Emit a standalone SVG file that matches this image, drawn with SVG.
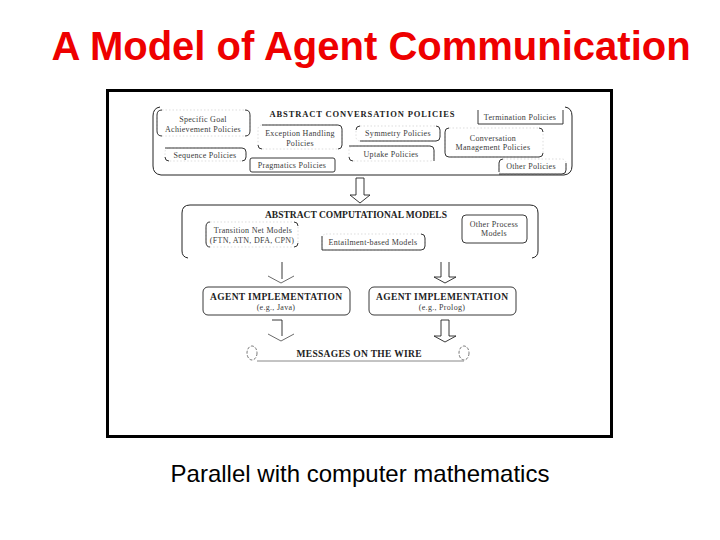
<svg xmlns="http://www.w3.org/2000/svg" width="720" height="540" viewBox="0 0 720 540">
<style>
.frame{fill:#fff;stroke:#000;stroke-width:3}
.grp{fill:none;stroke:#222;stroke-width:1}
.box{fill:none;stroke:#222;stroke-width:0.9}
.faint{fill:none;stroke:#c8c8c8;stroke-width:0.6;stroke-dasharray:1.5 2}
.t{font-family:"Liberation Serif","Times New Roman",serif;font-size:8px;letter-spacing:0.3px;fill:#3a3a3a;text-anchor:middle}
.h{font-family:"Liberation Serif","Times New Roman",serif;font-weight:bold;fill:#222;text-anchor:middle}
.arr{fill:#fff;stroke:#222;stroke-width:0.9}
.wing{fill:none;stroke:#444;stroke-width:0.8}
</style>
<rect width="720" height="540" fill="#fff"/>
<text x="371" y="60" font-family="Liberation Sans, Arial, sans-serif" font-weight="bold" font-size="40" fill="#ee0000" text-anchor="middle">A Model of Agent Communication</text>
<rect class="frame" x="107.5" y="90.5" width="504" height="346"/>

<g id="conversation-policies">
<path class="grp" d="M160,107 Q153,108 153,116 V166 Q153,174 161,175 H564 Q572,174 572,166 V116 Q572,108 565,107"/>
<text class="h" x="362" y="117" font-size="8.5" textLength="185" lengthAdjust="spacing">ABSTRACT CONVERSATION POLICIES</text>
</g>
<g id="specific-goal">
<rect class="faint" x="157" y="110" width="93" height="26" rx="5"/>
<path class="box" d="M162,110 Q157,110 157,115 V131 Q157,136 162,136 M245,110 Q250,110 250,115 V131 Q250,136 245,136"/>
<text class="t" x="203" y="122">Specific Goal</text>
<text class="t" x="203" y="132">Achievement Policies</text>
</g>
<g id="exception-handling">
<rect class="faint" x="258" y="125" width="84" height="24" rx="4"/>
<path class="box" d="M262,125 H338 Q342,125 342,129 V145 Q342,149 338,149 M258,145 Q258,149 262,149"/>
<text class="t" x="300" y="136">Exception Handling</text>
<text class="t" x="300" y="146">Policies</text>
</g>
<g id="sequence">
<rect class="faint" x="165" y="148" width="81" height="13" rx="4"/>
<path class="box" d="M165,148 H242 Q246,148 246,152 V157 Q246,161 242,161 M165,157 Q165,161 169,161"/>
<text class="t" x="205" y="158">Sequence Policies</text>
</g>
<g id="pragmatics">
<rect class="box" x="250" y="158" width="85" height="14" rx="2"/>
<text class="t" x="292" y="167.5">Pragmatics Policies</text>
</g>
<g id="symmetry">
<rect class="faint" x="356" y="126" width="84" height="15" rx="4"/>
<path class="box" d="M356,130 Q356,126 360,126 M360,141 H436 Q440,141 440,137 V130 Q440,126 436,126"/>
<text class="t" x="398" y="136">Symmetry Policies</text>
</g>
<g id="uptake">
<rect class="faint" x="349" y="146" width="85" height="15" rx="4"/>
<path class="box" d="M349,146 H430 Q434,146 434,150 V161 M349,157 Q349,161 353,161"/>
<text class="t" x="391" y="157">Uptake Policies</text>
</g>
<g id="termination">
<path class="box" d="M478,110 V124 H563 V110"/>
<text class="t" x="520" y="120">Termination Policies</text>
</g>
<g id="conversation-management">
<rect class="faint" x="445" y="128" width="98" height="29" rx="4"/>
<path class="box" d="M449,128 Q445,128 445,132 V153 Q445,157 449,157 H539 Q543,157 543,153 M539,128 Q543,128 543,132"/>
<text class="t" x="493" y="141">Conversation</text>
<text class="t" x="493" y="150">Management Policies</text>
</g>
<g id="other-policies">
<rect class="faint" x="499" y="159" width="67" height="15" rx="4"/>
<path class="box" d="M499,172 V163 Q499,159 503,159 M499,174 H562 Q566,174 566,170 V163"/>
<text class="t" x="531" y="169">Other Policies</text>
</g>

<g id="computational-models">
<path class="grp" d="M188,258 Q182,257 182,251 V213 Q182,205 190,205 H530 Q538,205 538,213 V251 Q538,257 532,258"/>
<text class="h" x="356" y="217.5" font-size="9.5" textLength="182" lengthAdjust="spacing">ABSTRACT COMPUTATIONAL MODELS</text>
</g>
<g id="transition-net">
<rect class="faint" x="206" y="222" width="92" height="25" rx="4"/>
<path class="box" d="M210,222 Q206,222 206,227 V242 Q206,247 210,247 M294,222 Q298,222 298,226 M298,243 Q298,247 294,247"/>
<text class="t" x="253" y="233">Transition Net Models</text>
<text class="t" x="252" y="243">(FTN, ATN, DFA, CPN)</text>
</g>
<g id="entailment">
<rect class="faint" x="322" y="234" width="103" height="16" rx="4"/>
<path class="box" d="M322,236 V250 H421 Q425,250 425,246 V238 Q425,234 421,234"/>
<text class="t" x="373" y="245">Entailment-based Models</text>
</g>
<g id="other-process">
<rect class="box" x="462" y="215" width="65" height="28" rx="4"/>
<text class="t" x="494" y="227">Other Process</text>
<text class="t" x="494" y="236">Models</text>
</g>

<g id="agent-java">
<rect class="box" x="203" y="287" width="147" height="28" rx="5"/>
<text class="h" x="276" y="300" font-size="9.5" textLength="132" lengthAdjust="spacing">AGENT IMPLEMENTATION</text>
<text class="t" x="276" y="310" font-size="7.5">(e.g., Java)</text>
</g>
<g id="agent-prolog">
<rect class="box" x="369" y="287" width="147" height="28" rx="5"/>
<text class="h" x="442" y="300" font-size="9.5" textLength="132" lengthAdjust="spacing">AGENT IMPLEMENTATION</text>
<text class="t" x="442" y="310" font-size="7.5">(e.g., Prolog)</text>
</g>
<g id="messages">
<ellipse cx="252" cy="353" rx="5" ry="7" fill="none" stroke="#555" stroke-width="0.8" stroke-dasharray="3 1.5"/>
<ellipse cx="464" cy="353" rx="5" ry="7" fill="none" stroke="#555" stroke-width="0.8" stroke-dasharray="3 1.5"/>
<path d="M257,361 H464" stroke="#888" stroke-width="1" fill="none"/>
<text class="h" x="359" y="356.5" font-size="9.5" textLength="125" lengthAdjust="spacing">MESSAGES ON THE WIRE</text>
</g>

<g id="connectors">
<path class="arr" d="M356,178 V195 H350 L360,203 L370,195 H364 V178 Z"/>
<path class="box" d="M282,262 V279"/>
<path class="wing" d="M268,276 L281,283 L294,276"/>
<path class="arr" d="M441,262 V277 H434 L445,283 L456,277 H449 V262"/>
<path class="box" d="M272,320 H282 V336"/>
<path class="wing" d="M268,334 L281,341 L294,334"/>
<path class="arr" d="M441,320 H449 V336 H456 L445,342 L434,336 H441 Z"/>
</g>

<text x="360" y="482" font-family="Liberation Sans, Arial, sans-serif" font-size="24" fill="#000" text-anchor="middle">Parallel with computer mathematics</text>
</svg>
